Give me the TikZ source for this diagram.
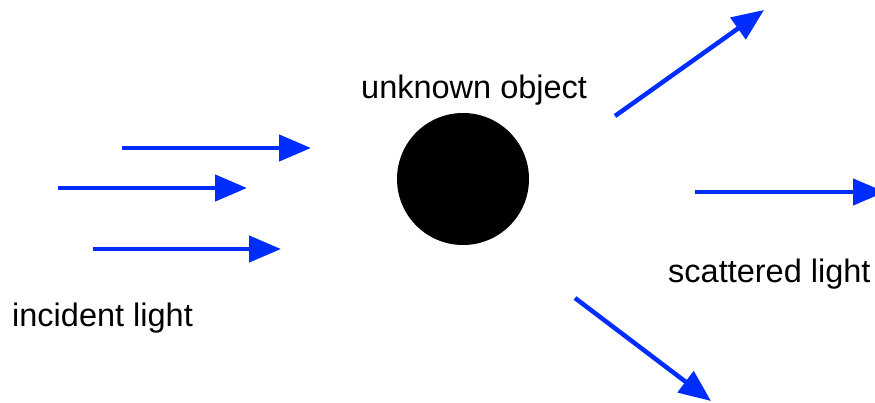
\documentclass[tikz,border=0pt]{standalone}
\usepackage{fontspec}
\setmainfont{Liberation Sans}
\usetikzlibrary{arrows.meta}
\definecolor{rayblue}{RGB}{0,45,255}
\tikzset{
  ray/.style={draw=rayblue, line width=4.5pt, -{Triangle[length=32pt,width=26pt]}, fill=rayblue},
  lbl/.style={anchor=base west, inner sep=0pt, font=\fontsize{32.5}{38}\selectfont}
}
\begin{document}
\begin{tikzpicture}[x=1pt,y=-1pt]
\useasboundingbox (0,0) rectangle (875,402);
\node[circle, fill=black, minimum size=132pt, inner sep=0pt] (obj) at (463,179) {};
\node[lbl] (t1) at (361,98) {unknown object};
\node[lbl] (t2) at (12,326) {incident light};
\node[lbl] (t3) at (668,282) {scattered light};
\coordinate (a1s) at (122,148); \coordinate (a1e) at (311,148);
\coordinate (a2s) at (58,188);  \coordinate (a2e) at (247,188);
\coordinate (a3s) at (93,249);  \coordinate (a3e) at (281,249);
\coordinate (b1s) at (615,116); \coordinate (b1e) at (764,10);
\coordinate (b2s) at (695,192); \coordinate (b2e) at (885,192);
\coordinate (b3s) at (575,298); \coordinate (b3e) at (711,401);
\draw[ray] (a1s) -- (a1e);
\draw[ray] (a2s) -- (a2e);
\draw[ray] (a3s) -- (a3e);
\draw[ray] (b1s) -- (b1e);
\draw[ray] (b2s) -- (b2e);
\draw[ray] (b3s) -- (b3e);
\end{tikzpicture}
\end{document}
